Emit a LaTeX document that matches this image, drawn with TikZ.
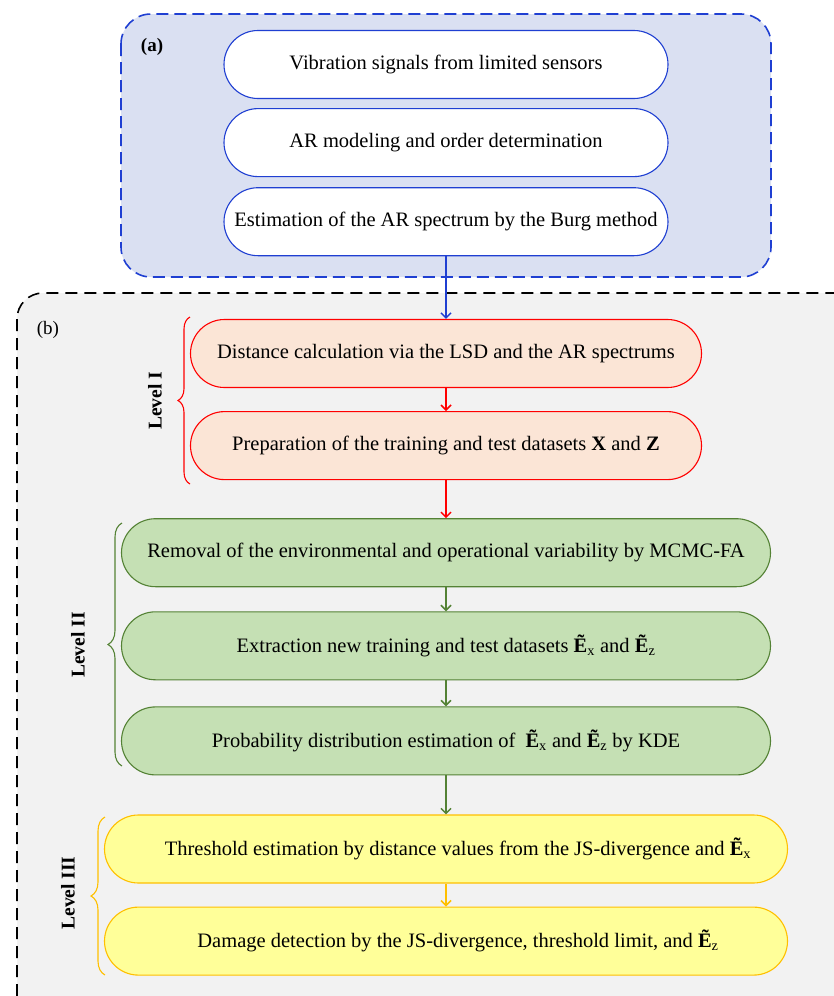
\documentclass[tikz,border=0pt]{standalone}
\usepackage{fontspec}
\setmainfont{Liberation Serif}
\usetikzlibrary{arrows.meta, positioning, decorations.pathreplacing}

\definecolor{ablue}{HTML}{1F3FD2}
\definecolor{afill}{HTML}{DAE0F2}
\definecolor{bfill}{HTML}{F2F2F2}
\definecolor{lred}{HTML}{FF0000}
\definecolor{lredfill}{HTML}{FBE5D6}
\definecolor{lgreen}{HTML}{548235}
\definecolor{lgreenfill}{HTML}{C5E0B4}
\definecolor{lyellow}{HTML}{FFC000}
\definecolor{lyellowfill}{HTML}{FFFF99}

\newcommand{\Ex}{\textbf{Ẽ}\textsubscript{x}}
\newcommand{\Ez}{\textbf{Ẽ}\textsubscript{z}}

\tikzset{
    flowbox/.style={draw, rounded corners=34pt, minimum height=68pt, align=center, line width=1.1pt, font=\fontsize{20.5}{24}\selectfont},
    boxa/.style={flowbox, draw=ablue, fill=white, minimum width=444pt},
    boxone/.style={flowbox, draw=lred, fill=lredfill, minimum width=511pt},
    boxtwo/.style={flowbox, draw=lgreen, fill=lgreenfill, minimum width=649pt},
    boxthree/.style={flowbox, draw=lyellow, fill=lyellowfill, minimum width=683pt},
    lvllabel/.style={rotate=90, font=\fontsize{19.5}{22}\selectfont\bfseries},
    lvlbrace/.style={decorate, decoration={brace, amplitude=12pt}, line width=1.1pt},
    flowarrow/.style={-{Straight Barb[length=5pt, width=10pt]}, line width=1.5pt}
}

\begin{document}
\begin{tikzpicture}[x=1pt, y=-1pt]
    \useasboundingbox (0,0) rectangle (834,996);

    % Frames
    \draw[fill=bfill, line width=1.6pt, dash pattern=on 12pt off 7pt, rounded corners=26pt] (17,293) rectangle (860,1030);
    \draw[ablue, fill=afill, line width=1.6pt, dash pattern=on 12pt off 6pt, rounded corners=30pt] (121,14) rectangle (771,277);
    \node[font=\fontsize{19}{22}\selectfont\bfseries] (tagA) at (152,47) {(a)};
    \node[font=\fontsize{19}{22}\selectfont] (tagB) at (48,330) {(b)};

    % Nodes
    \node[boxa] (sig) at (446,64.5) {Vibration signals from limited sensors};
    \node[boxa, below=9pt of sig] (armod) {AR modeling and order determination};
    \node[boxa, below=10pt of armod] (burg) {Estimation of the AR spectrum by the Burg method};

    \node[boxone] (lsd) at (446,353.5) {Distance calculation via the LSD and the AR spectrums};
    \node[boxone, below=23pt of lsd] (prep) {Preparation of the training and test datasets \textbf{X} and \textbf{Z}};

    \node[boxtwo, below=38pt of prep] (mcmc) {Removal of the environmental and operational variability by MCMC-FA};
    \node[boxtwo, below=24pt of mcmc] (extr) {Extraction new training and test datasets \Ex{} and \Ez};
    \node[boxtwo, below=26pt of extr] (kde) {Probability distribution estimation of \ \Ex{} and \Ez{} by KDE};

    \node[boxthree, below=39pt of kde] (thr) {\hspace{24pt}Threshold estimation by distance values from the JS-divergence and \Ex};
    \node[boxthree, below=23pt of thr] (dmg) {\hspace{24pt}Damage detection by the JS-divergence, threshold limit, and \Ez};

    % Arrows
    \draw[flowarrow, ablue] (burg) -- (lsd);
    \draw[flowarrow, lred] (lsd) -- (prep);
    \draw[flowarrow, lred] (prep) -- (mcmc);
    \draw[flowarrow, lgreen] (mcmc) -- (extr);
    \draw[flowarrow, lgreen] (extr) -- (kde);
    \draw[flowarrow, lgreen] (kde) -- (thr);
    \draw[flowarrow, lyellow] (thr) -- (dmg);

    % Levels
    \draw[lvlbrace, lred] (190,484) -- (190,317);
    \draw[lvlbrace, lgreen, decoration={amplitude=14pt}] (122,766) -- (122,523);
    \draw[lvlbrace, lyellow, decoration={amplitude=14pt}] (105,975) -- (105,817);
    \node[lvllabel] (lvI) at (155,401) {Level I};
    \node[lvllabel] (lvII) at (78,645) {Level II};
    \node[lvllabel] (lvIII) at (68,893) {Level III};

\end{tikzpicture}
\end{document}
